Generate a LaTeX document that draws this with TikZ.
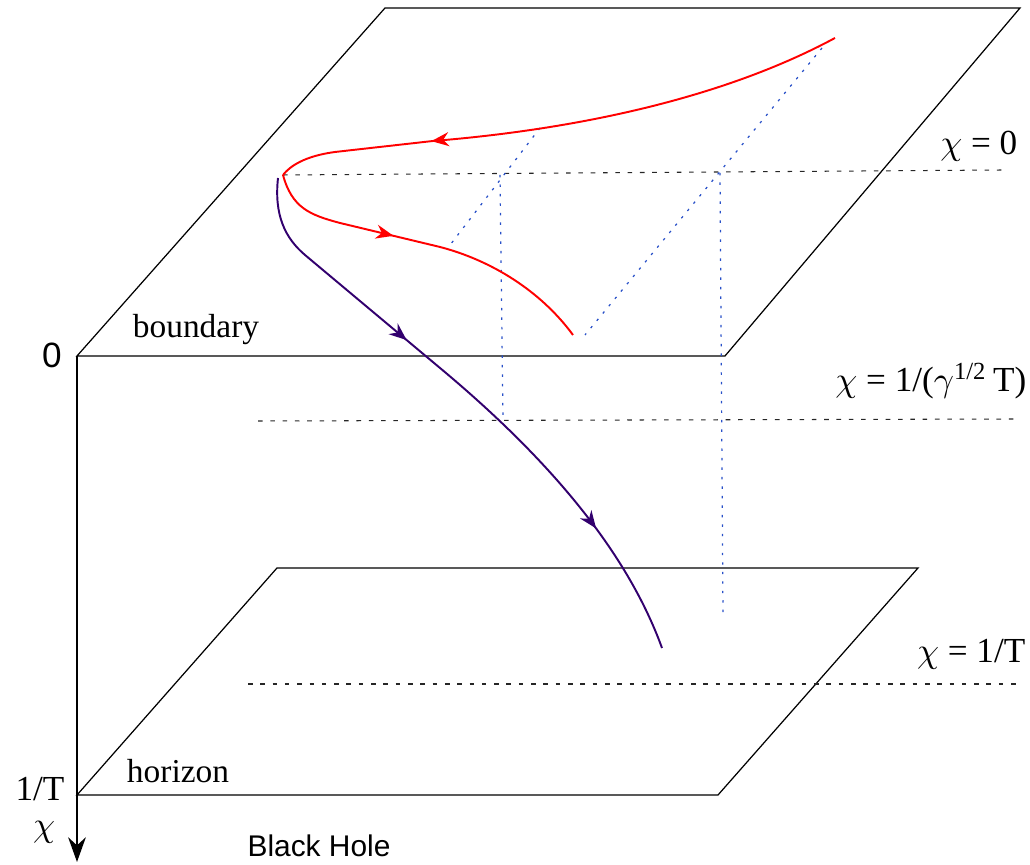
\documentclass[tikz,border=0pt]{standalone}
\usepackage{fontspec}
\setmainfont{Liberation Serif}
\setsansfont{Liberation Sans}
\usetikzlibrary{arrows.meta, decorations.markings}
\definecolor{flowred}{RGB}{255,0,0}
\definecolor{infall}{RGB}{50,0,110}
\definecolor{proj}{RGB}{40,80,200}
\tikzset{
  plane/.style={draw=black, line width=0.35pt},
  level/.style={black!85, line width=0.3pt, dash pattern=on 1.3pt off 2.2pt},
  guide/.style={proj, line width=0.35pt, dash pattern=on 0.7pt off 2pt},
  lbl/.style={font=\fontsize{10}{12}\selectfont, inner sep=0pt, anchor=base},
  sidelbl/.style={font=\fontsize{9.5}{11}\selectfont, inner sep=0pt, anchor=base},
  sanslbl/.style={font=\sffamily\fontsize{8.5}{10}\selectfont, inner sep=0pt, anchor=base},
  axis/.style={line width=0.8pt, -{Stealth[length=7pt,width=5pt]}},
  redflow/.style={flowred, line width=0.55pt},
  purpleflow/.style={infall, line width=0.55pt},
  onearrow/.style={postaction={decorate}, decoration={markings,
      mark=at position #1 with {\arrow{Stealth[length=5pt,width=4pt]}}}},
  twoarrows/.style 2 args={postaction={decorate}, decoration={markings,
      mark=at position #1 with {\arrow{Stealth[length=5pt,width=4pt]}},
      mark=at position #2 with {\arrow{Stealth[length=5pt,width=4pt]}}}},
}

\begin{document}
\begin{tikzpicture}[x=0.01cm, y=-0.01cm]
\useasboundingbox (0,0) rectangle (1030,865);

% Corners of the two planes
\coordinate (zero) at (77,356);
\coordinate (ub1) at (385,8);
\coordinate (ub2) at (1020,8);
\coordinate (uf2) at (725,356);
\coordinate (lf1) at (77,795);
\coordinate (lb1) at (277,568);
\coordinate (lb2) at (918,568);
\coordinate (lf2) at (718,795);
\coordinate (axisend) at (77,862);

% Boundary and horizon planes
\draw[plane] (zero) -- (ub1) -- (ub2) -- (uf2) -- cycle;
\draw[plane] (lf1) -- (lb1) -- (lb2) -- (lf2) -- cycle;
\draw[axis] (zero) -- (axisend);

% Levels of chi
\coordinate (cusp) at (283,175);
\coordinate (lvl0e) at (1005,170);
\coordinate (lvlma) at (258,421);
\coordinate (lvlme) at (1018,419);
\coordinate (lvlha) at (248,684);
\coordinate (lvlhe) at (1018,684);
\draw[level] (cusp) -- (lvl0e);
\draw[level] (lvlma) -- (lvlme);
\draw[level] (lvlha) -- (lvlhe);

% Projections
\coordinate (pa) at (540,128);
\coordinate (pb) at (447,249);
\coordinate (pc) at (822,48);
\coordinate (pd) at (585,335);
\coordinate (qa) at (500,175);
\coordinate (qb) at (503,420);
\coordinate (qc) at (720,173);
\coordinate (qd) at (723,615);
\draw[guide] (pa) -- (pb);
\draw[guide] (pc) -- (pd);
\draw[guide] (qa) -- (qb);
\draw[guide] (qc) -- (qd);

% Red trajectory on the boundary
\coordinate (rtop) at (835,38);
\coordinate (rmid) at (433,141);
\coordinate (rkink) at (335,152);
\coordinate (rlow) at (340,223);
\coordinate (rbend) at (440,247);
\coordinate (rend) at (573,335);
\draw[redflow, onearrow=0.73] (rtop) .. controls (720,100) and (570,130) .. (rmid)
  -- (rkink) .. controls (305,156) and (290,166) .. (cusp);
\draw[redflow, onearrow=0.39] (cusp) .. controls (292,208) and (310,215) .. (rlow)
  -- (rbend) .. controls (490,260) and (540,290) .. (rend);

% Falling string
\coordinate (fstart) at (278,178);
\coordinate (fa) at (305,255);
\coordinate (fb) at (440,368);
\coordinate (fend) at (662,648);
\draw[purpleflow, twoarrows={0.35}{0.78}] (fstart) .. controls (274,215) and (285,238) .. (fa)
  -- (fb) .. controls (560,468) and (630,560) .. (fend);

% Labels
\node[sidelbl] (bnd) at (196,338) {boundary};
\node[sidelbl] (hor) at (178,783) {horizon};
\node[sanslbl, font=\sffamily\fontsize{10}{12}\selectfont] (zlab) at (52,368) {0};
\node[lbl] (tlab) at (40,801) {1/T};
\node[lbl] (chilab) at (44,837) {$\chi$};
\node[sanslbl] (bh) at (319,857) {Black Hole};
\node[lbl, anchor=base east] (c0) at (1018,155) {$\chi$ = 0};
\node[lbl, anchor=base east] (c1) at (1027,392) {$\chi$ = 1/($\gamma$\textsuperscript{1/2}\,T)};
\node[lbl, anchor=base east] (c2) at (1026,663) {$\chi$ = 1/T};
\end{tikzpicture}
\end{document}
